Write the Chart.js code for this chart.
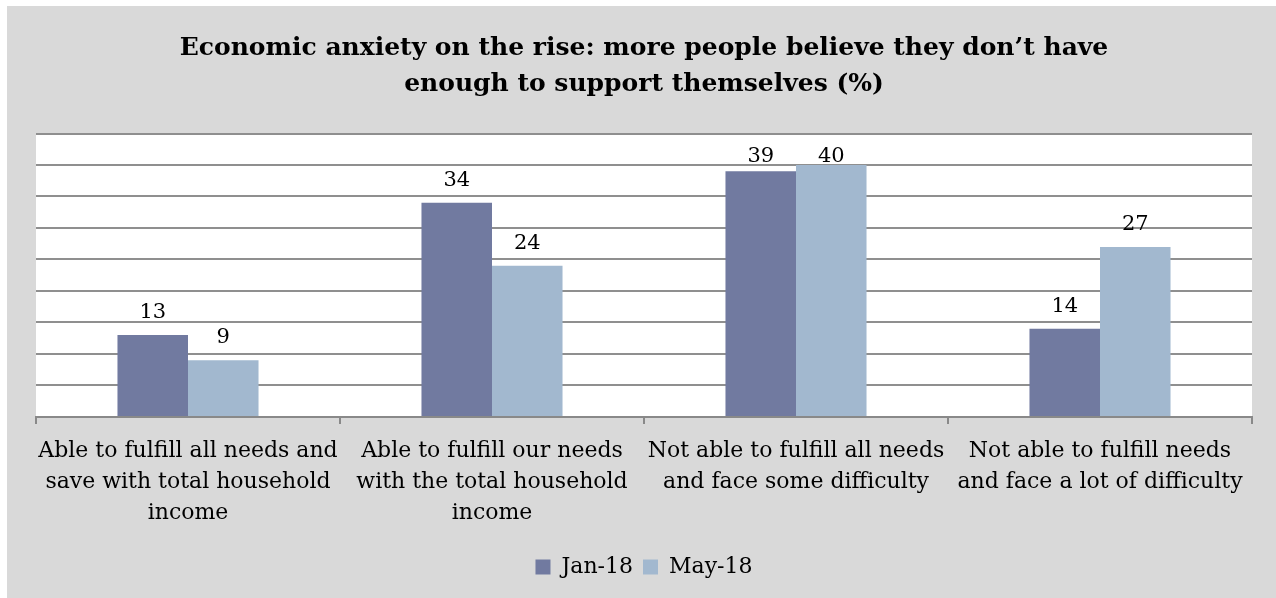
<!DOCTYPE html>
<html>
<head>
<meta charset="utf-8">
<script src="https://cdn.jsdelivr.net/npm/chart.js@4"></script>
<style>
  html, body { margin: 0; padding: 0; background: #ffffff; }
  #wrap { position: absolute; left: 7px; top: 6px; width: 1269px; height: 592px; background: #d9d9d9; }
</style>
</head>
<body>
<div id="wrap"><canvas id="myChart"></canvas></div>
<script>
const categories = [
    ['Able to fulfill all needs and', 'save with total household', 'income'],
    ['Able to fulfill our needs', 'with the total household', 'income'],
    ['Not able to fulfill all needs', 'and face some difficulty'],
    ['Not able to fulfill needs', 'and face a lot of difficulty']
];
const jan18 = [13, 34, 39, 14];
const may18 = [9, 24, 40, 27];

const serif = "'DejaVu Serif', 'Liberation Serif', serif";

// draws the number above each bar
const valueLabels = {
    id: 'valueLabels',
    afterDatasetsDraw(chart) {
        const c = chart.ctx;
        c.save();
        c.font = '21px ' + serif;
        c.fillStyle = '#000';
        c.textAlign = 'center';
        c.textBaseline = 'alphabetic';
        chart.data.datasets.forEach((ds, i) => {
            chart.getDatasetMeta(i).data.forEach((bar, j) => {
                let y = Math.max(bar.y - 17, chart.chartArea.top + 28);
                c.fillText(ds.data[j], bar.x, y);
            });
        });
        c.restore();
    }
};

const ctx = document.getElementById('myChart');
new Chart(ctx, {
    type: 'bar',
    data: {
        labels: categories,
        datasets: [{
            label: 'Jan-18',
            data: jan18,
            backgroundColor: '#717aa0'
        },
        {
            label: 'May-18',
            data: may18,
            backgroundColor: '#a2b8cf'
        }]
    },
    options: {
        responsive: true,
        maintainAspectRatio: false,
        animation: false,
        categoryPercentage: 0.464,
        barPercentage: 1,
        layout: {
            padding: { left: 29, right: 24, top: 0, bottom: 10 }
        },
        plugins: {
            title: {
                display: true,
                text: ['Economic anxiety on the rise: more people believe they don\u2019t have', 'enough to support themselves (%)'],
                color: '#000',
                font: { family: serif, size: 25, weight: 'bold', lineHeight: 1.45 },
                padding: { top: 24, bottom: 31 }
            },
            legend: {
                position: 'bottom',
                labels: {
                    color: '#000',
                    font: { family: serif, size: 22 },
                    boxWidth: 15,
                    boxHeight: 15,
                    padding: 10
                }
            },
            tooltip: { enabled: false }
        },
        scales: {
            x: {
                border: { display: true, color: '#898989', width: 2 },
                grid: { offset: true, drawOnChartArea: false, color: '#898989', lineWidth: 2, tickLength: 7 },
                ticks: {
                    color: '#000',
                    font: { family: serif, size: 22, lineHeight: 1.41 },
                    maxRotation: 0,
                    padding: 12
                },
                afterFit(scale) { scale.height += 5; }
            },
            y: {
                min: 0,
                max: 45,
                ticks: { stepSize: 5, display: false },
                border: { display: false },
                grid: { color: '#8f8f8f', lineWidth: 2, drawTicks: false }
            }
        }
    },
    plugins: [valueLabels, {
        id: 'plotBg',
        beforeDraw(chart) {
            const a = chart.chartArea;
            chart.ctx.save();
            chart.ctx.fillStyle = '#ffffff';
            chart.ctx.fillRect(a.left, a.top, a.right - a.left, a.bottom - a.top);
            chart.ctx.restore();
        }
    }]
});
</script>
</body>
</html>
